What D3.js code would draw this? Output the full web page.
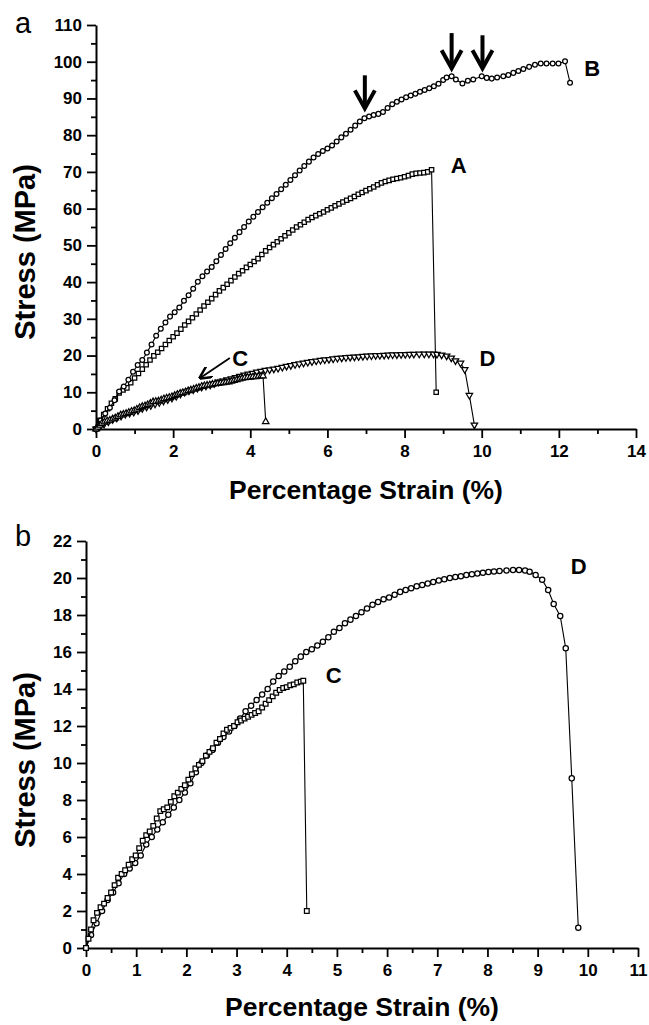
<!DOCTYPE html>
<html>
<head>
<meta charset="utf-8">
<script src="https://cdn.jsdelivr.net/npm/d3@7"></script>
<style>
  html, body { margin: 0; padding: 0; background: #fff; }
  svg { display: block; }
  text { font-family: "Liberation Sans", Arial, sans-serif; fill: #000; }
</style>
</head>
<body>
<script>
"use strict";

// Tensile curves, [strain %, stress MPa]
var seriesA = [[0,0],[0.1,2.4],[0.2,3.9],[0.3,5.5],[0.4,7.0],[0.5,8.2],[0.6,9.8],[0.7,10.6],[0.8,11.2],[0.9,12.6],
  [1.0,13.9],[1.1,15.1],[1.2,16.3],[1.3,17.5],[1.4,18.8],[1.5,19.9],[1.6,20.9],[1.7,21.9],[1.8,23.0],[1.9,24.1],
  [2.0,25.1],[2.1,26.1],[2.2,27.2],[2.3,28.3],[2.4,29.3],[2.5,30.3],[2.6,31.3],[2.7,32.4],[2.8,33.5],[2.9,34.5],
  [3.0,35.5],[3.1,36.6],[3.2,37.6],[3.3,38.5],[3.4,39.4],[3.5,40.4],[3.6,41.4],[3.7,42.3],[3.8,43.1],[3.9,44.0],
  [4.0,44.8],[4.1,45.6],[4.2,46.4],[4.3,47.5],[4.4,48.5],[4.5,49.4],[4.6,50.2],[4.7,51.0],[4.8,51.8],[4.9,52.6],
  [5.0,53.4],[5.1,54.2],[5.2,55.0],[5.3,55.6],[5.4,56.3],[5.5,57.0],[5.6,57.6],[5.7,58.1],[5.8,58.6],[5.9,59.1],
  [6.0,59.7],[6.1,60.2],[6.2,60.8],[6.3,61.3],[6.4,61.8],[6.5,62.3],[6.6,62.8],[6.7,63.3],[6.8,63.9],[6.9,64.4],
  [7.0,64.9],[7.1,65.4],[7.2,65.9],[7.3,66.5],[7.4,67.0],[7.5,67.4],[7.6,67.7],[7.7,68.0],[7.8,68.2],[7.9,68.4],
  [8.0,68.7],[8.1,69.0],[8.2,69.4],[8.3,69.6],[8.4,69.7],[8.5,69.8],[8.6,70.0],[8.7,70.6],[8.82,10.0]];

var seriesB = [[0,0],[0.12,2.3],[0.24,4.2],[0.36,5.8],[0.48,7.8],[0.6,10.2],[0.72,11.6],[0.84,13.4],[0.96,15.6],
  [1.08,17.4],[1.2,18.8],[1.32,20.8],[1.44,23.0],[1.56,25.4],[1.68,27.3],[1.8,29.0],[1.92,30.6],[2.04,31.8],
  [2.16,33.1],[2.28,34.9],[2.4,36.4],[2.52,38.2],[2.64,40.1],[2.76,41.6],[2.88,42.9],[3.0,44.1],[3.12,45.7],
  [3.24,47.4],[3.36,49.0],[3.48,50.6],[3.6,52.1],[3.72,53.6],[3.84,55.0],[3.96,56.5],[4.08,57.8],[4.2,59.1],
  [4.32,60.4],[4.44,61.6],[4.56,62.8],[4.68,64.0],[4.8,65.3],[4.92,66.5],[5.04,67.8],[5.16,69.1],[5.28,70.4],
  [5.4,71.6],[5.52,72.8],[5.64,73.9],[5.76,74.9],[5.88,75.7],[6.0,76.4],[6.12,77.2],[6.24,78.3],[6.36,79.4],
  [6.48,80.4],[6.6,81.5],[6.72,82.6],[6.84,83.7],[6.96,84.6],[7.08,85.1],[7.2,85.5],[7.32,85.8],[7.44,86.3],
  [7.56,87.4],[7.68,88.4],[7.8,89.1],[7.92,89.7],[8.04,90.3],[8.16,90.8],[8.28,91.3],[8.4,91.8],[8.52,92.3],
  [8.64,92.8],[8.76,93.3],[8.88,94.0],[9.0,95.0],[9.09,95.7],[9.22,96.05],[9.33,95.15],[9.5,94.06],[9.64,94.8],
  [9.78,95.15],[10.0,96.05],[10.13,95.6],[10.26,95.4],[10.4,95.7],[10.56,96.05],[10.69,96.4],[10.82,96.96],
  [10.95,97.5],[11.08,98.0],[11.23,98.6],[11.38,99.2],[11.53,99.5],[11.68,99.5],[11.84,99.5],[11.99,99.5],
  [12.16,100.1],[12.29,94.3]];

var seriesC = [[0,0],[0.05,0.5],[0.1,1.0],[0.15,1.5],[0.22,1.9],[0.29,2.2],[0.36,2.4],[0.43,2.7],[0.5,3.0],
  [0.57,3.4],[0.64,3.8],[0.71,4.0],[0.78,4.2],[0.85,4.5],[0.92,4.8],[0.99,5.0],[1.06,5.4],[1.13,5.8],[1.2,6.1],
  [1.27,6.3],[1.34,6.6],[1.41,7.0],[1.48,7.4],[1.55,7.5],[1.62,7.6],[1.69,7.9],[1.76,8.2],[1.83,8.4],[1.9,8.6],
  [1.97,8.8],[2.04,9.1],[2.11,9.4],[2.18,9.7],[2.25,9.9],[2.32,10.1],[2.39,10.4],[2.46,10.6],[2.53,10.8],
  [2.6,11.1],[2.67,11.3],[2.74,11.6],[2.81,11.8],[2.88,11.9],[2.95,12.0],[3.02,12.2],[3.09,12.3],[3.16,12.4],
  [3.23,12.5],[3.3,12.6],[3.37,12.7],[3.44,12.8],[3.51,13.0],[3.58,13.2],[3.65,13.4],[3.72,13.6],[3.79,13.8],
  [3.86,13.95],[3.93,14.05],[4.0,14.1],[4.07,14.2],[4.14,14.25],[4.21,14.35],[4.28,14.4],[4.33,14.45],[4.4,2.0]];

var seriesD = [[0,0],[0.1,0.7],[0.21,1.34],[0.32,2.0],[0.43,2.6],[0.54,3.0],[0.65,3.5],[0.76,4.0],[0.87,4.3],
  [0.98,4.6],[1.09,5.0],[1.2,5.6],[1.31,6.0],[1.42,6.4],[1.53,6.8],[1.64,7.2],[1.75,7.6],[1.86,8.0],[1.97,8.4],
  [2.08,8.9],[2.19,9.5],[2.3,10.0],[2.41,10.4],[2.52,10.7],[2.63,11.1],[2.74,11.4],[2.85,11.7],[2.96,12.0],
  [3.07,12.4],[3.18,12.8],[3.29,13.1],[3.4,13.4],[3.51,13.7],[3.62,14.0],[3.73,14.4],[3.84,14.7],[3.95,14.95],
  [4.06,15.2],[4.17,15.5],[4.28,15.75],[4.39,16.0],[4.5,16.15],[4.61,16.35],[4.72,16.55],[4.83,16.8],[4.94,17.1],
  [5.05,17.3],[5.16,17.55],[5.27,17.75],[5.38,17.95],[5.49,18.15],[5.6,18.35],[5.71,18.55],[5.82,18.7],[5.93,18.85],
  [6.04,18.95],[6.15,19.1],[6.26,19.25],[6.37,19.35],[6.48,19.45],[6.59,19.55],[6.7,19.62],[6.81,19.7],[6.92,19.78],
  [7.03,19.86],[7.14,19.93],[7.25,20.0],[7.36,20.05],[7.47,20.1],[7.58,20.16],[7.69,20.2],[7.8,20.24],[7.91,20.28],
  [8.02,20.32],[8.13,20.35],[8.24,20.38],[8.38,20.4],[8.51,20.43],[8.63,20.43],[8.75,20.4],[8.84,20.34],
  [8.96,20.16],[9.09,19.9],[9.21,19.35],[9.32,18.6],[9.45,17.95],[9.56,16.2],[9.68,9.17],[9.81,1.1]];

// axis ticks
var aXTicks = [0, 2, 4, 6, 8, 10, 12, 14];
var aXMinor = [1, 3, 5, 7, 9, 11, 13];
var aYTicks = [0, 10, 20, 30, 40, 50, 60, 70, 80, 90, 100, 110];
var aYMinor = [5, 15, 25, 35, 45, 55, 65, 75, 85, 95, 105];
var bXTicks = [0, 1, 2, 3, 4, 5, 6, 7, 8, 9, 10, 11];
var bXMinor = [0.5, 1.5, 2.5, 3.5, 4.5, 5.5, 6.5, 7.5, 8.5, 9.5, 10.5];
var bYTicks = [0, 2, 4, 6, 8, 10, 12, 14, 16, 18, 20, 22];
var bYMinor = [1, 3, 5, 7, 9, 11, 13, 15, 17, 19, 21];

var xTitle = "Percentage Strain (%)";
var yTitle = "Stress (MPa)";

var svg = d3.select("body").append("svg")
  .attr("width", 649)
  .attr("height", 1025);

function draw_axes(x, y, xt, xm, yt, ym) {
  var g = svg.append("g");
  var xa = g.append("g").attr("transform", "translate(0," + y.range()[0] + ")");
  xa.call(d3.axisBottom(x).tickValues(xm).tickSize(5).tickFormat(""));
  xa.select(".domain").remove();
  var xb = g.append("g").attr("transform", "translate(0," + y.range()[0] + ")");
  xb.call(d3.axisBottom(x).tickValues(xt).tickSize(9).tickSizeOuter(0).tickPadding(7).tickFormat(d3.format("d")));

  var ya = g.append("g").attr("transform", "translate(" + x.range()[0] + ",0)");
  ya.call(d3.axisLeft(y).tickValues(ym).tickSize(5).tickFormat(""));
  ya.select(".domain").remove();
  var yb = g.append("g").attr("transform", "translate(" + x.range()[0] + ",0)");
  yb.call(d3.axisLeft(y).tickValues(yt).tickSize(9).tickSizeOuter(0).tickPadding(5).tickFormat(d3.format("d")));

  g.selectAll(".domain").attr("stroke", "#000").attr("stroke-width", 2);
  g.selectAll(".tick line").attr("stroke", "#000").attr("stroke-width", 1.8);
  g.selectAll(".tick text")
    .style("font-family", '"Liberation Sans", Arial, sans-serif')
    .style("font-size", "17px")
    .style("font-weight", "bold")
    .attr("fill", "#000");
}

function draw_series(x, y, data, shape, size, rot) {
  var line = d3.line()
    .x(function(d) { return x(d[0]); })
    .y(function(d) { return y(d[1]); });
  svg.append("path")
    .attr("d", line(data))
    .attr("fill", "none")
    .attr("stroke", "#000")
    .attr("stroke-width", 1.1);
  var sym = d3.symbol().type(shape).size(size);
  svg.append("g")
    .selectAll("path")
    .data(data)
    .enter()
    .append("path")
      .attr("d", sym)
      .attr("transform", function(d) {
        return "translate(" + x(d[0]) + "," + y(d[1]) + ")" + (rot ? " rotate(" + rot + ")" : "");
      })
      .attr("fill", "#fff")
      .attr("stroke", "#000")
      .attr("stroke-width", 1.25);
}

function label(x, y, txt, px, py, size) {
  svg.append("text")
    .attr("x", x(px))
    .attr("y", y(py))
    .style("font-size", size + "px")
    .style("font-weight", "bold")
    .text(txt);
}

function titles(x, y, base, yMid, panel, panelY) {
  svg.append("text")
    .attr("x", (x.range()[0] + x.range()[1]) / 2)
    .attr("y", base)
    .attr("text-anchor", "middle")
    .style("font-size", "26.5px")
    .style("font-weight", "bold")
    .text(xTitle);
  svg.append("text")
    .attr("transform", "translate(35," + yMid + ") rotate(-90)")
    .attr("text-anchor", "middle")
    .style("font-size", "29px")
    .style("font-weight", "bold")
    .text(yTitle);
  svg.append("text")
    .attr("x", 15)
    .attr("y", panelY)
    .style("font-size", "29px")
    .text(panel);
}

// ---- panel a
var xa = d3.scaleLinear().domain([0, 14]).range([96, 636]);
var ya = d3.scaleLinear().domain([0, 110]).range([429, 25]);
draw_axes(xa, ya, aXTicks, aXMinor, aYTicks, aYMinor);
draw_series(xa, ya, seriesA, d3.symbolSquare, 19, 0);
draw_series(xa, ya, seriesB, d3.symbolCircle, 18, 0);
draw_series(xa, ya, seriesD, d3.symbolTriangle, 18, 180);
draw_series(xa, ya, seriesC, d3.symbolTriangle, 18, 0);

// bold arrows on curve B
var arrowsB = [[6.97, 96.3, 87.3], [9.22, 107.8, 98.2], [10.02, 107.2, 98.2]];
arrowsB.forEach(function(a) {
  var ax = xa(a[0]), y0 = ya(a[1]), y1 = ya(a[2]);
  svg.append("line").attr("x1", ax).attr("x2", ax).attr("y1", y0).attr("y2", y1 - 1)
    .attr("stroke", "#000").attr("stroke-width", 4);
  svg.append("path")
    .attr("d", "M" + (ax - 10) + "," + (y1 - 18) + "L" + ax + "," + y1 + "L" + (ax + 10) + "," + (y1 - 18))
    .attr("fill", "none").attr("stroke", "#000").attr("stroke-width", 4)
    .attr("stroke-linejoin", "miter");
});

// thin arrow to curve C
var cArrow = [3.47, 19.3, 2.70, 13.9];
svg.append("defs").append("marker")
  .attr("id", "head").attr("viewBox", "0 0 10 10").attr("refX", 9).attr("refY", 5)
  .attr("markerWidth", 7).attr("markerHeight", 7).attr("orient", "auto")
  .append("path").attr("d", "M0,0L10,5L0,10").attr("fill", "none").attr("stroke", "#000").attr("stroke-width", 2);
svg.append("line")
  .attr("x1", xa(cArrow[0])).attr("y1", ya(cArrow[1]))
  .attr("x2", xa(cArrow[2])).attr("y2", ya(cArrow[3]))
  .attr("stroke", "#000").attr("stroke-width", 1.8)
  .attr("marker-end", "url(#head)");

label(xa, ya, "B", 12.66, 96.0, 22);
label(xa, ya, "A", 9.2, 69.8, 22);
label(xa, ya, "C", 3.53, 17.2, 22);
label(xa, ya, "D", 9.94, 17.2, 22);
titles(xa, ya, 499, 252, "a", 33);

// ---- panel b
var xb = d3.scaleLinear().domain([0, 11]).range([86, 638]);
var yb = d3.scaleLinear().domain([0, 22]).range([948, 541]);
draw_axes(xb, yb, bXTicks, bXMinor, bYTicks, bYMinor);
draw_series(xb, yb, seriesD, d3.symbolCircle, 22, 0);
draw_series(xb, yb, seriesC, d3.symbolSquare, 22, 0);
label(xb, yb, "D", 9.66, 20.2, 22);
label(xb, yb, "C", 4.78, 14.35, 22);
titles(xb, yb, 1016, 760, "b", 546);
</script>
</body>
</html>
